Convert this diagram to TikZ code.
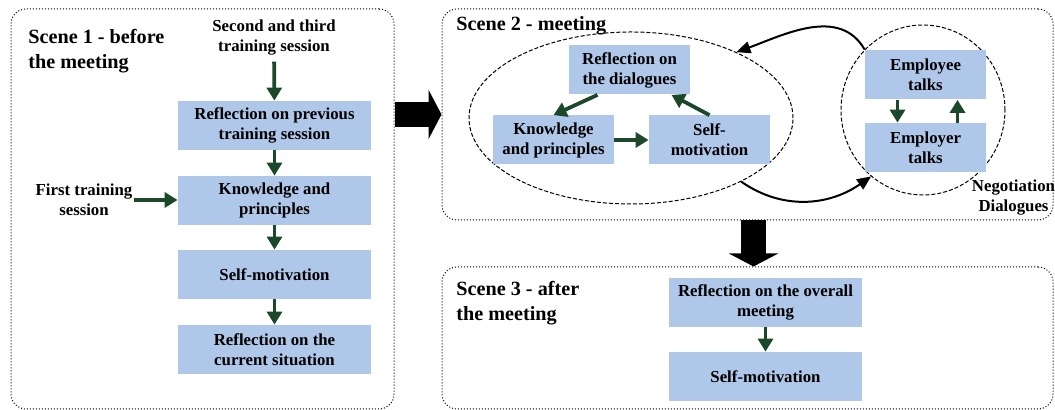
\documentclass[tikz,border=0pt]{standalone}
\usepackage{fontspec}
\setmainfont{Liberation Serif}
\usetikzlibrary{arrows.meta, shapes.geometric}

\definecolor{boxblue}{RGB}{175,199,233}
\definecolor{darkgreen}{RGB}{28,72,42}

\begin{document}
\begin{tikzpicture}[x=0.5pt, y=0.5pt,
  scene/.style={draw, densely dotted, line width=0.5pt, rounded corners=7.5pt, inner sep=0pt},
  scenetitle/.style={anchor=north west, inner sep=0pt, align=left, font=\fontsize{10.1pt}{12.3pt}\selectfont\bfseries},
  box/.style={fill=boxblue, minimum height=24.5pt, inner sep=1pt, align=center, font=\fontsize{8.4pt}{10pt}\selectfont\bfseries},
  wide/.style={box, minimum width=96.5pt},
  narrow/.style={box, minimum width=60.5pt},
  note/.style={align=center, inner sep=0.5pt, font=\fontsize{8.4pt}{10pt}\selectfont\bfseries},
  ring/.style={draw, ellipse, line width=0.5pt, dash pattern=on 2pt off 1pt, inner sep=0pt},
  garrow/.style={darkgreen, line width=1.9pt, -{Triangle[length=6.5pt, width=7.5pt]}},
  curvearrow/.style={line width=1pt, -{Triangle[length=7pt, width=6pt]}},
  bigarrow/.style={line width=12.5pt, -{Triangle[length=6.5pt, width=24.5pt]}}
]
\useasboundingbox (0,0) rectangle (1055,410);

% Scene 1
\node[scene, minimum width=191.5pt, minimum height=200pt] (scene1) at (202.5,201) {};
\node[scenetitle] (title1) at (28,381) {Scene 1 - before\\the meeting};
\node[note] (second) at (274,372.5) {Second and third\\training session};
\node[wide] (reflprev) at (274.5,284.5) {Reflection on previous\\training session};
\node[wide] (know1) at (274.5,209.5) {Knowledge and\\principles};
\node[wide] (self1) at (274.5,135.5) {Self-motivation};
\node[wide] (reflcur) at (274.5,60.5) {Reflection on the\\current situation};
\node[note] (first) at (84,210) {First training\\session};

\draw[garrow, shorten <=2.5pt] (second) -- (reflprev);
\draw[garrow] (reflprev) -- (know1);
\draw[garrow] (know1) -- (self1);
\draw[garrow] (self1) -- (reflcur);
\draw[garrow] (first.east) -- (first.east -| know1.west);

% Scene 2
\node[scene, minimum width=305.5pt, minimum height=105.5pt] (scene2) at (747.5,295.5) {};
\node[scenetitle] (title2) at (456,394) {Scene 2 - meeting};
\node[ring, minimum width=162pt, minimum height=86pt] (inner) at (631,292) {};
\node[ring, minimum width=82pt, minimum height=85pt] (negotiation) at (923,300) {};
\node[narrow] (refldia) at (629.5,340) {Reflection on\\the dialogues};
\node[narrow] (know2) at (553.5,270) {Knowledge\\and principles};
\node[narrow] (self2) at (709.5,270) {Self-\\motivation};
\node[narrow] (employee) at (925.5,335) {Employee\\talks};
\node[narrow] (employer) at (925.5,262.5) {Employer\\talks};
\node[note] (negolabel) at (1013.5,212.5) {Negotiation\\Dialogues};

\draw[garrow] ([xshift=-16pt]refldia.south) -- (know2.north);
\draw[garrow] (self2.north) -- ([xshift=21pt]refldia.south);
\draw[garrow] (know2) -- (self2);
\draw[garrow] ([xshift=-14pt]employee.south) -- ([xshift=-14pt]employer.north);
\draw[garrow] ([xshift=16pt]employer.north) -- ([xshift=16pt]employee.south);

\draw[curvearrow] (negotiation.134) to[out=120, in=20] (inner.32);
\draw[curvearrow] (inner.-30) to[out=-35, in=-145] (negotiation.232);

% Scene 3
\node[scene, minimum width=305.5pt, minimum height=71pt] (scene3) at (747.5,72) {};
\node[scenetitle] (title3) at (456,129) {Scene 3 - after\\the meeting};
\node[wide] (reflall) at (765.5,107.5) {Reflection on the overall\\meeting};
\node[wide] (self3) at (765.5,33.5) {Self-motivation};

\draw[garrow] (reflall) -- (self3);

% Between scenes
\draw[bigarrow] (scene1.east |- scene2.west) -- (scene2.west);
\draw[bigarrow] ([xshift=3pt]scene2.south) -- ([xshift=3pt]scene3.north);

\end{tikzpicture}
\end{document}
